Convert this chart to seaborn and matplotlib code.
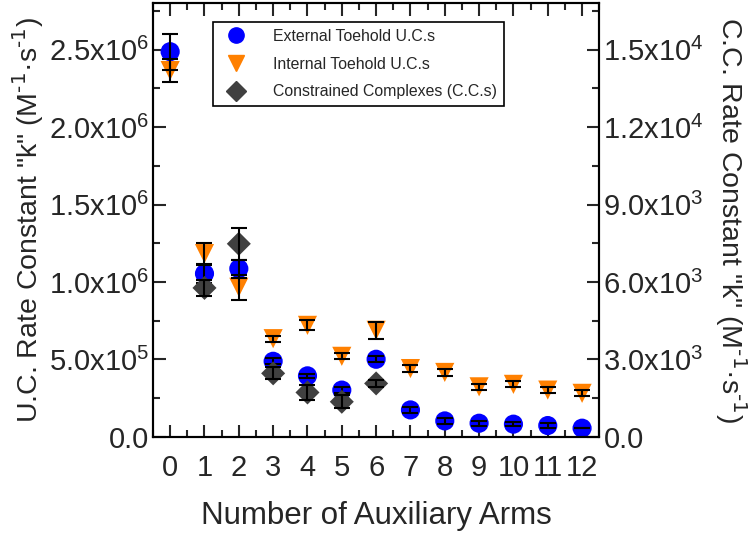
import numpy as np
import pandas as pd
import matplotlib
matplotlib.use('Agg')
import matplotlib.pyplot as plt
import seaborn as sns
from matplotlib.ticker import MultipleLocator, FuncFormatter

# values
arms = [0, 1, 2, 3, 4, 5, 6, 7, 8, 9, 10, 11, 12]
ext_k = [2.487e6, 1.054e6, 1.086e6, 0.488e6, 0.394e6, 0.302e6, 0.501e6,
         0.174e6, 0.103e6, 0.088e6, 0.082e6, 0.073e6, 0.056e6]
ext_err = [0.116e6, 0.058e6, 0.058e6, 0.02e6, 0.015e6, 0.02e6, 0.02e6,
           0.02e6, 0.02e6, 0.015e6, 0.015e6, 0.015e6, 0.0]
int_k = [2.365e6, 1.183e6, 0.966e6, 0.634e6, 0.72e6, 0.52e6, 0.688e6,
         0.441e6, 0.416e6, 0.323e6, 0.339e6, 0.302e6, 0.281e6]
int_err = [0.075e6, 0.07e6, 0.081e6, 0.02e6, 0.032e6, 0.02e6, 0.053e6,
           0.02e6, 0.02e6, 0.02e6, 0.02e6, 0.02e6, 0.02e6]
cc_arms = [1, 2, 3, 4, 5, 6]
cc_k = [5770, 7480, 2460, 1720, 1360, 2070]
cc_err = [300, 620, 230, 290, 260, 150]

labels = ['External Toehold U.C.s', 'Internal Toehold U.C.s',
          'Constrained Complexes (C.C.s)']
colors = ['#0000ff', '#ff8000', '#404040']

sns.set_style('ticks')
plt.rcParams['font.family'] = ['Liberation Sans', 'DejaVu Sans']
plt.rcParams['mathtext.default'] = 'regular'

uc = pd.DataFrame({'arms': arms * 2,
                   'k': ext_k + int_k,
                   'err': ext_err + int_err,
                   'kind': [labels[0]] * len(arms) + [labels[1]] * len(arms)})
cc = pd.DataFrame({'arms': cc_arms, 'k': cc_k, 'err': cc_err})

fig = plt.figure(figsize=(7.5, 5.38), dpi=100)
ax = fig.add_axes([0.204, 0.188, 0.595, 0.806])
ax2 = ax.twinx()

sns.scatterplot(data=uc, x='arms', y='k', hue='kind', style='kind',
                palette=colors[:2], markers=['o', 'v'], s=190,
                edgecolor='none', ax=ax, zorder=2, legend=False)
ax.errorbar(arms, ext_k, yerr=ext_err, fmt='none', ecolor='black',
            elinewidth=1.5, capsize=6, capthick=1.5, zorder=3)
ax.errorbar(arms, int_k, yerr=int_err, fmt='none', ecolor='black',
            elinewidth=1.5, capsize=6, capthick=1.5, zorder=3)

sns.scatterplot(data=cc, x='arms', y='k', color=colors[2], marker='D',
                s=150, edgecolor='none', ax=ax2, zorder=2, legend=False)
ax2.errorbar(cc_arms, cc_k, yerr=cc_err, fmt='none', ecolor='black',
             elinewidth=1.5, capsize=6, capthick=1.5, zorder=3)

ymax = 2.8e6
ax.set_xlim(-0.5, 12.5)
ax.set_ylim(0, ymax)
ax2.set_ylim(0, ymax * 1.5e4 / 2.5e6)


def sci(v, pos):
    if abs(v) < 1e-9:
        return '0.0'
    if v < 0:
        return ''
    e = int(np.floor(np.log10(v) + 1e-9))
    return '%.1fx10$^{%d}$' % (v / 10 ** e, e)


ax.xaxis.set_major_locator(MultipleLocator(1))
ax.xaxis.set_minor_locator(MultipleLocator(0.5))
ax.yaxis.set_major_locator(MultipleLocator(0.5e6))
ax.yaxis.set_minor_locator(MultipleLocator(0.25e6))
ax.yaxis.set_major_formatter(FuncFormatter(sci))
ax2.yaxis.set_major_locator(MultipleLocator(3000))
ax2.yaxis.set_minor_locator(MultipleLocator(1500))
ax2.yaxis.set_major_formatter(FuncFormatter(sci))

for a in (ax, ax2):
    for sp in a.spines.values():
        sp.set_linewidth(1.5)
        sp.set_color('black')
ax.tick_params(axis='x', which='both', direction='in', top=True, labelsize=21,
               width=1.5, pad=12)
ax.tick_params(axis='x', which='major', length=9)
ax.tick_params(axis='x', which='minor', length=5)
ax.tick_params(axis='y', which='both', direction='in', labelsize=21, width=1.5,
               pad=3)
ax.tick_params(axis='y', which='major', length=9)
ax.tick_params(axis='y', which='minor', length=5)
ax2.tick_params(axis='y', which='both', direction='in', labelsize=21, width=1.5,
                pad=3)
ax2.tick_params(axis='y', which='major', length=9)
ax2.tick_params(axis='y', which='minor', length=5)

unit = ' (M$^{\\text{-1}}$·s$^{\\text{-1}}$)'
ax.set_xlabel('Number of Auxiliary Arms', fontsize=22.5, labelpad=14)
ax.set_ylabel('U.C. Rate Constant "k"' + unit, fontsize=20.5, labelpad=2)
ax2.set_ylabel('C.C. Rate Constant "k"' + unit, fontsize=20.5,
               rotation=270, labelpad=32)

handles = [
    plt.Line2D([], [], ls='none', marker='o', color=colors[0], markersize=11),
    plt.Line2D([], [], ls='none', marker='v', color=colors[1], markersize=12),
    plt.Line2D([], [], ls='none', marker='D', color=colors[2], markersize=10),
]
leg = ax2.legend(handles, labels, loc='upper left', bbox_to_anchor=(0.135, 0.957),
                 fontsize=11.4, frameon=True, fancybox=False, framealpha=1,
                 edgecolor='black', borderpad=0.45, labelspacing=0.8,
                 handletextpad=1.3, borderaxespad=0)
leg.get_frame().set_linewidth(1.2)

fig.savefig('out.png', dpi=100)
